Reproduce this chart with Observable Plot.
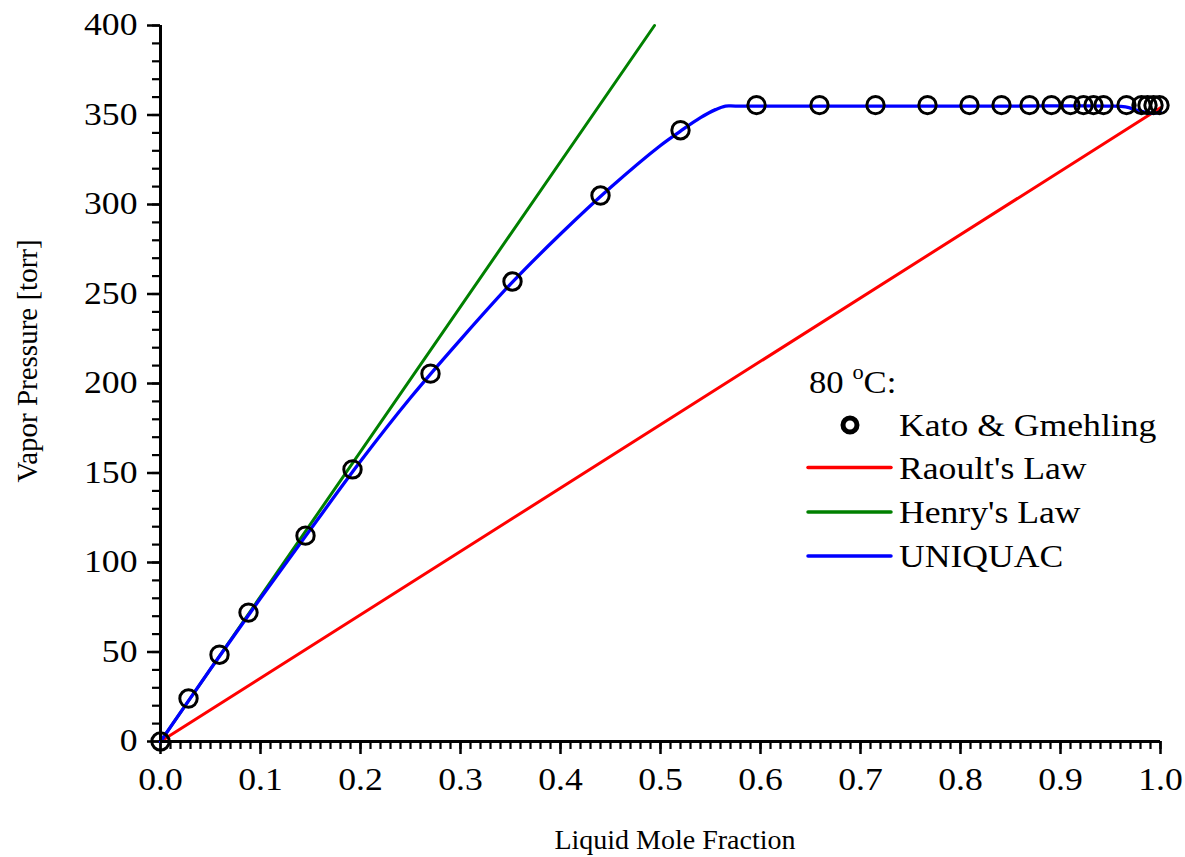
<!DOCTYPE html>
<html><head><meta charset="utf-8">
<script src="https://cdn.jsdelivr.net/npm/d3@7"></script>
<script src="https://cdn.jsdelivr.net/npm/@observablehq/plot@0.6"></script>
<style>body{margin:0;background:#fff}</style>
</head><body><div id="chart"></div>
<script>
// Kato & Gmehling data (80 °C)
const katoX = [0, 0.028, 0.059, 0.088, 0.145, 0.192, 0.270, 0.352, 0.440, 0.520,
  0.596, 0.659, 0.715, 0.767, 0.809, 0.841, 0.869, 0.891, 0.910, 0.923, 0.933, 0.943,
  0.966, 0.981, 0.987, 0.993, 0.999];
const katoY = [0, 24, 48.5, 72, 115, 152, 205.5, 257, 305, 341.5,
  355.5, 355.5, 355.5, 355.5, 355.5, 355.5, 355.5, 355.5, 355.5, 355.5, 355.5, 355.5,
  355.5, 355.5, 355.5, 355.5, 355.5];
// Raoult's law line
const raoultX = [0, 1];
const raoultY = [0, 354];
// Henry's law line
const henryX = [0, 0.494];
const henryY = [0, 400];
// UNIQUAC curve
const uniquacX = [0, 0.05, 0.10, 0.15, 0.20, 0.25, 0.30, 0.35, 0.40, 0.45, 0.50, 0.52, 0.54, 0.555, 0.565, 0.575, 0.70, 0.85, 0.95, 0.965, 0.978, 0.99, 1.0];
const uniquacY = [0, 40.5, 80, 118.5, 156.5, 192, 224.5, 255.5, 283.5, 309.5, 333, 341, 348.5, 353, 355, 355, 355, 355, 355, 354.5, 352.5, 351, 351.5];
// Axis ticks
const xMajor = [0, 0.1, 0.2, 0.3, 0.4, 0.5, 0.6, 0.7, 0.8, 0.9, 1.0];
const yMajor = [0, 50, 100, 150, 200, 250, 300, 350, 400];
const xMinor = d3.range(0, 101).map(i => i / 100);
const yMinor = d3.range(0, 41).map(i => i * 10);
// Legend
const seriesNames = ["Kato & Gmehling", "Raoult's Law", "Henry's Law", "UNIQUAC"];
const seriesColors = ["#000000", "#ff0000", "#008000", "#0000ff"];

const zip = (xs, ys) => xs.map((x, i) => ({x, y: ys[i]}));
const font = "'Liberation Serif', 'Times New Roman', serif";

const chart = Plot.plot({
  width: 1185, height: 857,
  marginLeft: 160, marginRight: 25, marginTop: 25, marginBottom: 116,
  x: {domain: [0, 1]},
  y: {domain: [0, 400]},
  style: {fontFamily: font, fontSize: "31px", color: "black", background: "white", overflow: "visible"},
  marks: [
    Plot.axisX({ticks: xMinor, tickSize: 8, strokeWidth: 2.2, tickFormat: () => "", label: null}),
    Plot.axisX({ticks: xMajor, tickSize: 13, strokeWidth: 2.5, tickPadding: 13, tickFormat: d3.format(".1f"), label: null, fontSize: 31}),
    Plot.axisY({ticks: yMinor, tickSize: 8, strokeWidth: 2.2, tickFormat: () => "", label: null}),
    Plot.axisY({ticks: yMajor, tickSize: 13, strokeWidth: 2.5, tickPadding: 10, tickFormat: d3.format("d"), label: null, fontSize: 31}),
    Plot.line(zip(raoultX, raoultY), {x: "x", y: "y", stroke: seriesColors[1], strokeWidth: 3}),
    Plot.line(zip(henryX, henryY), {x: "x", y: "y", stroke: seriesColors[2], strokeWidth: 3}),
    Plot.line(zip(uniquacX, uniquacY), {x: "x", y: "y", stroke: seriesColors[3], strokeWidth: 3.3, curve: "catmull-rom"}),
    Plot.dot(zip(katoX, katoY), {x: "x", y: "y", r: 8.7, stroke: seriesColors[0], strokeWidth: 3, fill: "none"}),
    Plot.ruleX([0], {stroke: "black", strokeWidth: 3}),
    Plot.ruleY([0], {stroke: "black", strokeWidth: 3})
  ]
});
document.getElementById("chart").append(chart);

const svg = d3.select(chart);
// widen tick label glyphs horizontally like the reference's font
svg.selectAll("text").each(function() {
  const tr = this.getAttribute("transform") || "";
  this.setAttribute("transform", (tr + " scale(1.15,1)").trim());
});

// Axis titles
svg.append("text").attr("x", 675).attr("y", 849).attr("text-anchor", "middle")
  .attr("font-family", font).attr("font-size", 28).attr("fill", "black").text("Liquid Mole Fraction");
svg.append("text").attr("transform", "translate(37,361) rotate(-90)").attr("text-anchor", "middle")
  .attr("font-family", font).attr("font-size", 29).attr("fill", "black").text("Vapor Pressure [torr]");

// Legend
const lg = svg.append("g").attr("font-family", font).attr("font-size", 31).attr("fill", "black").attr("text-anchor", "start");
const t = lg.append("text").attr("transform", "translate(809,393) scale(1.12,1)");
t.append("tspan").text("80 ");
t.append("tspan").attr("font-size", 20).attr("dy", -14).text("o");
t.append("tspan").attr("dy", 14).text("C:");
lg.append("circle").attr("cx", 850).attr("cy", 425).attr("r", 7).attr("fill", "none")
  .attr("stroke", seriesColors[0]).attr("stroke-width", 5);
const rowY = [425, 467.5, 512, 556];
seriesNames.forEach((name, i) => {
  if (i > 0) {
    lg.append("line").attr("x1", 808).attr("x2", 891).attr("y1", rowY[i]).attr("y2", rowY[i])
      .attr("stroke", seriesColors[i]).attr("stroke-width", 3.5).attr("stroke-linecap", "round");
  }
  lg.append("text").attr("transform", `translate(899,${rowY[i] + 11}) scale(1.15,1)`).text(name);
});
</script></body></html>
